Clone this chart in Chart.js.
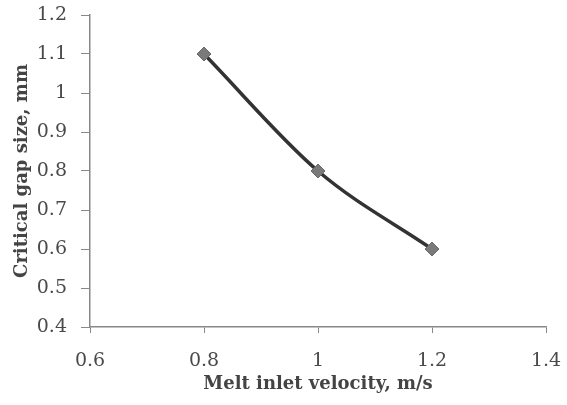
<!DOCTYPE html>
<html>
<head>
<meta charset="utf-8">
<script src="https://cdn.jsdelivr.net/npm/chart.js@4/dist/chart.umd.min.js"></script>
<style>
  html, body { margin: 0; padding: 0; background: #fff; }
  #wrap { width: 567px; height: 405px; }
</style>
</head>
<body>
<div id="wrap"><canvas id="myChart" width="567" height="405"></canvas></div>
<script>
// datos
const velocidad = [0.8, 1.0, 1.2];
const gapCritico = [1.1, 0.8, 0.6];

const xTicks = [0.6, 0.8, 1.0, 1.2, 1.4];
const xTickLabels = ['0.6', '0.8', '1', '1.2', '1.4'];
const yTicks = [0.4, 0.5, 0.6, 0.7, 0.8, 0.9, 1.0, 1.1, 1.2];
const yTickLabels = ['0.4', '0.5', '0.6', '0.7', '0.8', '0.9', '1', '1.1', '1.2'];

const xTitle = 'Melt inlet velocity, m/s';
const yTitle = 'Critical gap size, mm';

const serif = "'DejaVu Serif', serif";

function etiqueta(valores, labels) {
	return function (value) {
		const i = valores.findIndex(v => Math.abs(v - value) < 1e-6);
		return i >= 0 ? labels[i] : '';
	};
}

const ctx = document.getElementById('myChart').getContext('2d');

const myChart = new Chart(ctx, {
	type: 'scatter',
	data: {
		datasets: [{
			data: velocidad.map((v, i) => ({ x: v, y: gapCritico[i] })),
			showLine: true,
			borderColor: '#333333',
			borderWidth: 3.5,
			tension: 0.4,
			cubicInterpolationMode: 'monotone',
			pointStyle: 'rectRot',
			pointRadius: 7,
			pointBackgroundColor: '#7a7a7a',
			pointBorderColor: '#6a6a6a',
			pointBorderWidth: 1
		}]
	},
	options: {
		responsive: false,
		animation: false,
		layout: { padding: { top: 15, right: 21, left: 0, bottom: 0 } },
		plugins: {
			legend: { display: false },
			tooltip: { enabled: false }
		},
		scales: {
			x: {
				type: 'linear',
				min: 0.6,
				max: 1.4,
				afterBuildTicks: s => { s.ticks = xTicks.map(v => ({ value: v })); },
				afterFit: s => { s.height = 78; s.paddingLeft = 0; s.paddingRight = 0; },
				grid: {
					drawOnChartArea: false,
					drawTicks: true,
					tickLength: 6,
					color: '#888'
				},
				border: { color: '#888', width: 1.5 },
				ticks: {
					padding: 17,
					color: '#4a4a4a',
					font: { family: serif, size: 19 },
					callback: etiqueta(xTicks, xTickLabels)
				},
				title: {
					display: true,
					text: xTitle,
					color: '#444',
					padding: { top: 0, bottom: 10 },
					font: { family: serif, size: 18, weight: 'bold' }
				}
			},
			y: {
				type: 'linear',
				min: 0.4,
				max: 1.2,
				afterBuildTicks: s => { s.ticks = yTicks.map(v => ({ value: v })); },
				afterFit: s => { s.width = 90; s.paddingTop = 0; s.paddingBottom = 0; },
				grid: {
					drawOnChartArea: false,
					drawTicks: true,
					tickLength: 9,
					color: '#888'
				},
				border: { color: '#888', width: 1.5 },
				ticks: {
					padding: 14,
					color: '#4a4a4a',
					font: { family: serif, size: 19 },
					callback: etiqueta(yTicks, yTickLabels)
				},
				title: {
					display: true,
					text: yTitle,
					color: '#444',
					padding: { top: 12, bottom: 2 },
					font: { family: serif, size: 18, weight: 'bold' }
				}
			}
		}
	}
});
</script>
</body>
</html>
